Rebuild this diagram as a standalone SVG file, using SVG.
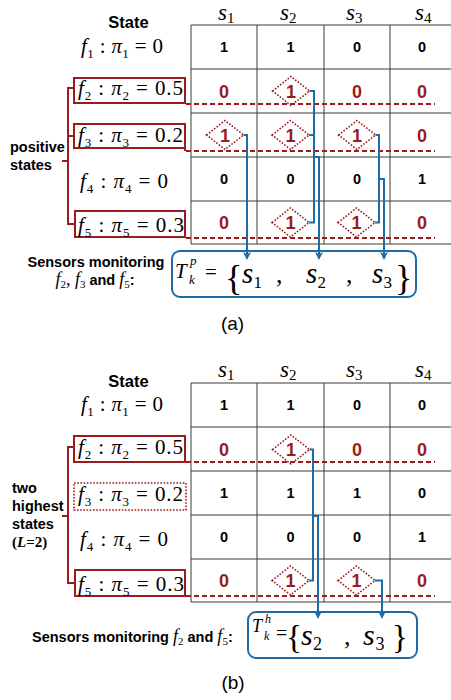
<svg xmlns="http://www.w3.org/2000/svg" width="451" height="700" viewBox="0 0 451 700">
<style>
.sans{font-family:"Liberation Sans",Arial,sans-serif;font-weight:bold;fill:#000}
.m{font-family:"Liberation Serif","Times New Roman",serif;fill:#000}
.i{font-style:italic}
.fm{font-size:21px}
.sb{font-size:13px}
.hs{font-size:23px}
.hsb{font-size:15px}
.nb{font-family:"Liberation Sans",Arial,sans-serif;font-weight:bold;font-size:14.5px;fill:#000;text-anchor:middle}
.nr{font-family:"Liberation Sans",Arial,sans-serif;font-weight:bold;font-size:18px;fill:#9B1B1F;text-anchor:middle}
.grid{stroke:#3a3a3a;stroke-width:1;fill:none}
.rbox{fill:none;stroke:#9B1B1F;stroke-width:2}
.rdot{fill:none;stroke:#9B1B1F;stroke-width:1.6;stroke-dasharray:1.6 1.6}
.br{fill:none;stroke:#9B1B1F;stroke-width:2}
.dash{fill:none;stroke:#9B1B1F;stroke-width:2;stroke-dasharray:5 3}
.dia{fill:none;stroke:#9B1B1F;stroke-width:1.6;stroke-dasharray:1.6 1.6}
.conn{fill:none;stroke:#1F6BA5;stroke-width:2}
.tbox{fill:#fff;stroke:#1F6BA5;stroke-width:2}
</style>
<defs>
<marker id="ah" markerUnits="userSpaceOnUse" markerWidth="10" markerHeight="10" refX="6" refY="4" orient="auto">
<path d="M0,0 L8,4 L0,8 L2,4 z" fill="#1F6BA5"/>
</marker>
</defs>

<!-- ===================== (a) ===================== -->
<g id="a-grid" class="grid">
<path d="M191,25 H451 M191,69 H451 M191,113 H451 M191,157 H451 M191,201 H451 M191,244 H451"/>
<path d="M191,25 V244 M257,25 V244 M324,25 V244 M390,25 V244"/>
</g>
<g id="a-headers">
<text class="sans" x="128.5" y="28" font-size="16.5" text-anchor="middle">State</text>
<text class="m i hs" x="218" y="20">s<tspan class="hsb" font-style="normal" dy="3">1</tspan></text>
<text class="m i hs" x="280" y="20">s<tspan class="hsb" font-style="normal" dy="3">2</tspan></text>
<text class="m i hs" x="346" y="20">s<tspan class="hsb" font-style="normal" dy="3">3</tspan></text>
<text class="m i hs" x="415" y="20">s<tspan class="hsb" font-style="normal" dy="3">4</tspan></text>
</g>
<g id="a-f1"><text class="m fm" x="81" y="53" textLength="82" lengthAdjust="spacing"><tspan class="i">f</tspan><tspan class="sb" dy="5">1</tspan><tspan dy="-5"> : </tspan><tspan class="i">π</tspan><tspan class="sb" dy="5">1</tspan><tspan dy="-5"> = 0</tspan></text></g>
<g id="a-f2"><rect class="rbox" x="74" y="78" width="111" height="25"/><text class="m fm" x="78" y="95" textLength="105" lengthAdjust="spacing"><tspan class="i">f</tspan><tspan class="sb" dy="5">2</tspan><tspan dy="-5"> : </tspan><tspan class="i">π</tspan><tspan class="sb" dy="5">2</tspan><tspan dy="-5"> = 0.5</tspan></text></g>
<g id="a-f3"><rect class="rbox" x="74" y="124" width="111" height="24"/><text class="m fm" x="78" y="141.5" textLength="105" lengthAdjust="spacing"><tspan class="i">f</tspan><tspan class="sb" dy="5">3</tspan><tspan dy="-5"> : </tspan><tspan class="i">π</tspan><tspan class="sb" dy="5">3</tspan><tspan dy="-5"> = 0.2</tspan></text></g>
<g id="a-f4"><text class="m fm" x="80" y="188" textLength="88" lengthAdjust="spacing"><tspan class="i">f</tspan><tspan class="sb" dy="5">4</tspan><tspan dy="-5"> : </tspan><tspan class="i">π</tspan><tspan class="sb" dy="5">4</tspan><tspan dy="-5"> = 0</tspan></text></g>
<g id="a-f5"><rect class="rbox" x="75" y="211" width="110" height="26"/><text class="m fm" x="78" y="232" textLength="106" lengthAdjust="spacing"><tspan class="i">f</tspan><tspan class="sb" dy="5">5</tspan><tspan dy="-5"> : </tspan><tspan class="i">π</tspan><tspan class="sb" dy="5">5</tspan><tspan dy="-5"> = 0.3</tspan></text></g>
<g id="a-positive">
<path class="br" d="M74,88 H68 V224 H75 M68,136 H74 M68,161 H62"/>
<text class="sans" font-size="14.5" x="10" y="152">positive</text>
<text class="sans" font-size="14.5" x="10" y="170">states</text>
</g>
<g id="a-dashes">
<path class="br" d="M185,148 V151"/>
<path class="dash" d="M186,104 H435 M186,151 H435 M186,238 H435"/>
</g>
<g id="a-cells">
<text class="nb" x="224" y="52">1</text><text class="nb" x="290.5" y="52">1</text><text class="nb" x="357" y="52">0</text><text class="nb" x="422" y="52">0</text>
<text class="nr" x="224" y="97.5">0</text><text class="nr" x="357" y="97.5">0</text><text class="nr" x="422" y="97.5">0</text>
<text class="nr" x="422" y="141.5">0</text>
<text class="nb" x="224" y="184">0</text><text class="nb" x="290.5" y="184">0</text><text class="nb" x="357" y="184">0</text><text class="nb" x="422" y="184">1</text>
<text class="nr" x="224" y="229">0</text><text class="nr" x="422" y="229">0</text>
</g>
<g id="a-diamonds">
<polygon class="dia" points="272.5,91 291,76.5 309.5,91 291,105.5"/><text class="nr" x="291" y="97.5">1</text>
<polygon class="dia" points="206.5,135 225,120.5 243.5,135 225,149.5"/><text class="nr" x="225" y="141.5">1</text>
<polygon class="dia" points="272,135 290.5,120.5 309,135 290.5,149.5"/><text class="nr" x="290.5" y="141.5">1</text>
<polygon class="dia" points="338.5,135 357,120.5 375.5,135 357,149.5"/><text class="nr" x="357" y="141.5">1</text>
<polygon class="dia" points="272,222.5 290.5,208 309,222.5 290.5,237"/><text class="nr" x="290.5" y="229">1</text>
<polygon class="dia" points="338,222.5 356.5,208 375,222.5 356.5,237"/><text class="nr" x="356.5" y="229">1</text>
</g>
<g id="a-sensors">
<text class="sans" font-size="14.5" x="96" y="267" text-anchor="middle">Sensors monitoring</text>
<text class="sans" font-size="14.5" x="95" y="285" text-anchor="middle"><tspan class="m i" font-weight="normal" font-size="18">f</tspan><tspan class="m" font-weight="normal" font-size="11" dy="3">2</tspan><tspan class="m" font-weight="normal" font-size="18" dy="-3">, </tspan><tspan class="m i" font-weight="normal" font-size="18">f</tspan><tspan class="m" font-weight="normal" font-size="11" dy="3">3</tspan><tspan dy="-3"> and </tspan><tspan class="m i" font-weight="normal" font-size="18">f</tspan><tspan class="m" font-weight="normal" font-size="11" dy="3">5</tspan><tspan dy="-3">:</tspan></text>
</g>
<g id="a-T">
<rect class="tbox" x="172" y="251" width="244" height="46" rx="8"/>
<text class="m i" font-size="21" x="175" y="278">T</text>
<text class="m i" font-size="13" x="190" y="265">p</text>
<text class="m i" font-size="13" x="189" y="284">k</text>
<text class="m" font-size="21" x="205" y="279">=</text>
<text class="m" font-size="36" x="225" y="290">{</text>
<text class="m i" font-size="29" x="242" y="283">s</text><text class="m" font-size="17" x="253.5" y="288">1</text>
<text class="m" font-size="26" x="276" y="283">,</text>
<text class="m i" font-size="29" x="306" y="283">s</text><text class="m" font-size="17" x="317.5" y="288">2</text>
<text class="m" font-size="26" x="346" y="283">,</text>
<text class="m i" font-size="29" x="372" y="283">s</text><text class="m" font-size="17" x="383.5" y="288">3</text>
<text class="m" font-size="36" x="395" y="290">}</text>
</g>
<g id="a-connectors" class="conn">
<path d="M243.5,135 H247 V258" marker-end="url(#ah)"/>
<path d="M309.5,91 H314 V222.5 H309 M309,135 H314"/>
<path d="M314,157 H319 V258" marker-end="url(#ah)"/>
<path d="M375.5,135 H379 V222.5 H375"/>
<path d="M379,179 H384 V258" marker-end="url(#ah)"/>
</g>
<text id="a-label" x="232.5" y="330" font-family="Liberation Sans, Arial, sans-serif" font-size="19" text-anchor="middle">(a)</text>

<!-- ===================== (b) ===================== -->
<g id="b-grid" class="grid">
<path d="M191,383 H451 M191,427 H451 M191,471 H451 M191,515 H451 M191,559 H451 M191,602 H451"/>
<path d="M191,383 V602 M257,383 V602 M324,383 V602 M390,383 V602"/>
</g>
<g id="b-headers">
<text class="sans" x="128.5" y="387" font-size="16.5" text-anchor="middle">State</text>
<text class="m i hs" x="218" y="377">s<tspan class="hsb" font-style="normal" dy="3">1</tspan></text>
<text class="m i hs" x="280" y="377">s<tspan class="hsb" font-style="normal" dy="3">2</tspan></text>
<text class="m i hs" x="346" y="377">s<tspan class="hsb" font-style="normal" dy="3">3</tspan></text>
<text class="m i hs" x="415" y="377">s<tspan class="hsb" font-style="normal" dy="3">4</tspan></text>
</g>
<g id="b-f1"><text class="m fm" x="81" y="411" textLength="82" lengthAdjust="spacing"><tspan class="i">f</tspan><tspan class="sb" dy="5">1</tspan><tspan dy="-5"> : </tspan><tspan class="i">π</tspan><tspan class="sb" dy="5">1</tspan><tspan dy="-5"> = 0</tspan></text></g>
<g id="b-f2"><rect class="rbox" x="74" y="436" width="111" height="26"/><text class="m fm" x="78" y="454" textLength="105" lengthAdjust="spacing"><tspan class="i">f</tspan><tspan class="sb" dy="5">2</tspan><tspan dy="-5"> : </tspan><tspan class="i">π</tspan><tspan class="sb" dy="5">2</tspan><tspan dy="-5"> = 0.5</tspan></text></g>
<g id="b-f3"><rect class="rdot" x="74" y="483" width="112" height="27"/><text class="m fm" x="78" y="501" textLength="105" lengthAdjust="spacing"><tspan class="i">f</tspan><tspan class="sb" dy="5">3</tspan><tspan dy="-5"> : </tspan><tspan class="i">π</tspan><tspan class="sb" dy="5">3</tspan><tspan dy="-5"> = 0.2</tspan></text></g>
<g id="b-f4"><text class="m fm" x="80" y="546" textLength="88" lengthAdjust="spacing"><tspan class="i">f</tspan><tspan class="sb" dy="5">4</tspan><tspan dy="-5"> : </tspan><tspan class="i">π</tspan><tspan class="sb" dy="5">4</tspan><tspan dy="-5"> = 0</tspan></text></g>
<g id="b-f5"><rect class="rbox" x="75" y="570" width="110" height="26"/><text class="m fm" x="78" y="591" textLength="106" lengthAdjust="spacing"><tspan class="i">f</tspan><tspan class="sb" dy="5">5</tspan><tspan dy="-5"> : </tspan><tspan class="i">π</tspan><tspan class="sb" dy="5">5</tspan><tspan dy="-5"> = 0.3</tspan></text></g>
<g id="b-highest">
<path class="br" d="M74,447 H68 V583 H75 M68,516 H62"/>
<text class="sans" font-size="14.5" x="12" y="493">two</text>
<text class="sans" font-size="14.5" x="12" y="511">highest</text>
<text class="sans" font-size="14.5" x="12" y="529">states</text>
<text class="m" font-weight="bold" font-size="15" x="12" y="547">(<tspan font-style="italic">L</tspan>=2)</text>
</g>
<g id="b-dashes">
<path class="dash" d="M186,462 H435 M186,596 H435"/>
</g>
<g id="b-cells">
<text class="nb" x="224" y="410">1</text><text class="nb" x="290.5" y="410">1</text><text class="nb" x="357" y="410">0</text><text class="nb" x="422" y="410">0</text>
<text class="nr" x="224" y="455.5">0</text><text class="nr" x="357" y="455.5">0</text><text class="nr" x="422" y="455.5">0</text>
<text class="nb" x="224" y="498">1</text><text class="nb" x="290.5" y="498">1</text><text class="nb" x="357" y="498">1</text><text class="nb" x="422" y="498">0</text>
<text class="nb" x="224" y="542">0</text><text class="nb" x="290.5" y="542">0</text><text class="nb" x="357" y="542">0</text><text class="nb" x="422" y="542">1</text>
<text class="nr" x="224" y="587">0</text><text class="nr" x="422" y="587">0</text>
</g>
<g id="b-diamonds">
<polygon class="dia" points="272.5,449.5 291,435 309.5,449.5 291,464"/><text class="nr" x="291" y="456">1</text>
<polygon class="dia" points="272,580.5 290.5,566 309,580.5 290.5,595"/><text class="nr" x="290.5" y="587">1</text>
<polygon class="dia" points="338,580.5 356.5,566 375,580.5 356.5,595"/><text class="nr" x="356.5" y="587">1</text>
</g>
<g id="b-sensors">
<text class="sans" font-size="14.5" x="32" y="642">Sensors monitoring <tspan class="m i" font-weight="normal" font-size="18">f</tspan><tspan class="m" font-weight="normal" font-size="11" dy="3">2</tspan><tspan dy="-3"> and </tspan><tspan class="m i" font-weight="normal" font-size="18">f</tspan><tspan class="m" font-weight="normal" font-size="11" dy="3">5</tspan><tspan dy="-3">:</tspan></text>
</g>
<g id="b-T">
<rect class="tbox" x="248" y="612" width="169" height="46" rx="8"/>
<text class="m i" font-size="18" x="252" y="632">T</text>
<text class="m i" font-size="12" x="265" y="623">h</text>
<text class="m i" font-size="12" x="264" y="640">k</text>
<text class="m" font-size="20" x="276" y="640">=</text>
<text class="m" font-size="33" x="286" y="648">{</text>
<text class="m i" font-size="30" x="301" y="645">s</text><text class="m" font-size="18" x="313" y="650">2</text>
<text class="m" font-size="26" x="344" y="645">,</text>
<text class="m i" font-size="30" x="363" y="645">s</text><text class="m" font-size="18" x="375.5" y="650">3</text>
<text class="m" font-size="33" x="392" y="648">}</text>
</g>
<g id="b-connectors" class="conn">
<path d="M309.5,449.5 H313 V580.5 H309"/>
<path d="M313,516 H318 V617" marker-end="url(#ah)"/>
<path d="M375,580.5 H382 V617" marker-end="url(#ah)"/>
</g>
<text id="b-label" x="233" y="689" font-family="Liberation Sans, Arial, sans-serif" font-size="19" text-anchor="middle">(b)</text>
</svg>
